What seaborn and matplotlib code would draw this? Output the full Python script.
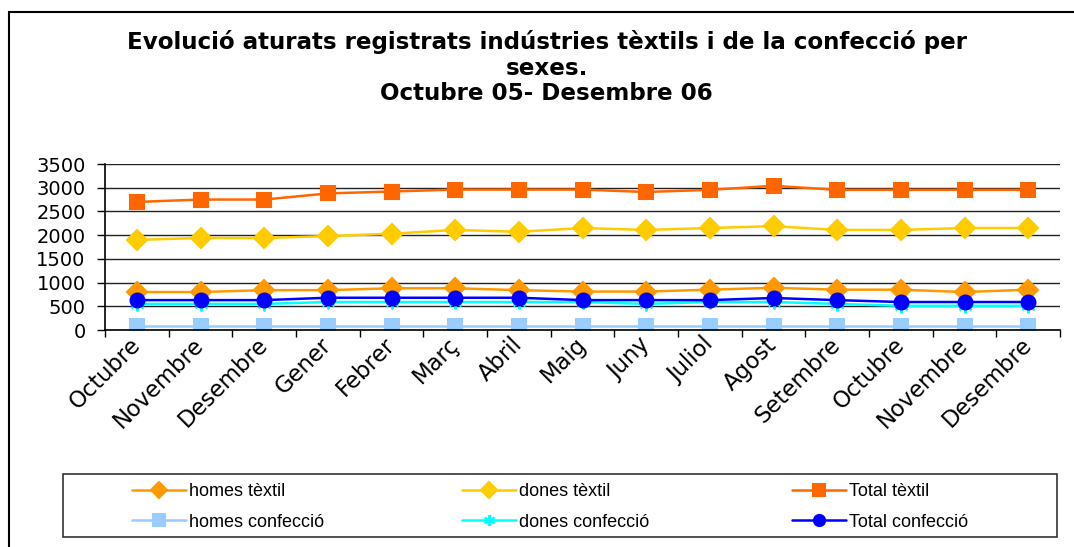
import numpy as np
import pandas as pd
import matplotlib
matplotlib.use("Agg")
import matplotlib.pyplot as plt
import matplotlib.patches as mpatches
import seaborn as sns

months = ["Octubre", "Novembre", "Desembre", "Gener", "Febrer", "Març", "Abril",
          "Maig", "Juny", "Juliol", "Agost", "Setembre", "Octubre", "Novembre",
          "Desembre"]

homes_textil = [800, 800, 840, 840, 880, 880, 840, 810, 810, 850, 890, 850, 850, 800, 850]
dones_textil = [1900, 1940, 1940, 1980, 2030, 2110, 2070, 2150, 2110, 2150, 2190, 2110, 2110, 2150, 2150]
total_textil = [2700, 2750, 2750, 2880, 2920, 2960, 2960, 2960, 2910, 2955, 3040, 2955, 2955, 2955, 2955]
homes_confeccio = [85, 85, 85, 85, 85, 85, 85, 85, 85, 85, 85, 85, 85, 85, 85]
dones_confeccio = [550, 550, 550, 590, 590, 590, 590, 590, 550, 590, 590, 550, 510, 510, 510]
total_confeccio = [630, 630, 630, 680, 680, 680, 680, 630, 630, 630, 675, 630, 590, 590, 590]

series = [
    ("homes tèxtil", homes_textil, "#FF9900", "D", 10),
    ("dones tèxtil", dones_textil, "#FFCC00", "D", 10),
    ("Total tèxtil", total_textil, "#FF6600", "s", 10),
    ("homes confecció", homes_confeccio, "#99CCFF", "s", 10),
    ("dones confecció", dones_confeccio, "#00FFFF", (6, 2, 0), 10),
    ("Total confecció", total_confeccio, "#0000FF", "o", 10),
]

sns.set_style("white")
plt.rcParams["font.family"] = ["DejaVu Sans"]
plt.rcParams["text.color"] = "black"
plt.rcParams["xtick.color"] = "black"
plt.rcParams["ytick.color"] = "black"

fig = plt.figure(figsize=(10.74, 5.47), dpi=100)
ax = fig.add_axes([105 / 1074, 1 - 330 / 547, (1060 - 105) / 1074, (330 - 164) / 547])

x = np.arange(len(months))
for name, vals, color, marker, ms in series:
    df = pd.DataFrame({"mes": x, "aturats": vals})
    sns.lineplot(data=df, x="mes", y="aturats", ax=ax, color=color, marker=marker,
                 markersize=ms, linewidth=1.8, markeredgecolor=color,
                 markeredgewidth=1.5, label=name, legend=False)

ax.set_xlim(-0.5, len(months) - 0.5)
ax.set_ylim(0, 3500)
ax.set_yticks(np.arange(0, 3501, 500))
ax.tick_params(axis="y", labelsize=14, length=6, width=1, direction="out", pad=8,
               left=True, colors="black")
ax.grid(axis="y", color="#222222", linewidth=1)
ax.set_axisbelow(True)

ax.set_xticks(np.arange(-0.5, len(months), 1))
ax.set_xticklabels([])
ax.tick_params(axis="x", which="major", length=5, width=1, direction="out", bottom=True)
ax.set_xticks(x, minor=True)
ax.set_xticklabels(months, minor=True, rotation=45, ha="right", va="center",
                   rotation_mode="anchor", fontsize=16.3, color="black")
ax.tick_params(axis="x", which="minor", length=0, pad=8)

ax.set_xlabel("")
ax.set_ylabel("")
for side in ["top", "right"]:
    ax.spines[side].set_visible(False)
for side in ["left", "bottom"]:
    ax.spines[side].set_color("black")
    ax.spines[side].set_linewidth(1.2)

fig.text(0.509, 1 - 30 / 547, "Evolució aturats registrats indústries tèxtils i de la confecció per\n"
         "sexes.\nOctubre 05- Desembre 06", ha="center", va="top", fontsize=16.6,
         fontweight="bold", linespacing=1.15, color="black")

# legend: frame drawn separately, three columns placed like the original
handles, labels = ax.get_legend_handles_labels()
col_x = [132, 462, 792]
for c in range(3):
    idx = [c, c + 3]
    lg = fig.legend([handles[i] for i in idx], [labels[i] for i in idx],
                    loc="center left", bbox_to_anchor=(col_x[c] / 1074, 1 - 507 / 547),
                    frameon=False, prop={"family": "Liberation Sans", "size": 13},
                    markerscale=0.8, handlelength=3.0, handletextpad=0.15,
                    labelspacing=0.75, borderpad=0, borderaxespad=0)
    for t in lg.get_texts():
        t.set_color("black")

fig.add_artist(mpatches.Rectangle((63 / 1074, 1 - 537 / 547), (1057 - 63) / 1074, 63 / 547,
                                  transform=fig.transFigure, fill=False,
                                  edgecolor="#333333", linewidth=1.2))

fig.add_artist(mpatches.Rectangle((9 / 1074, -0.1), 1.1, 1.1 - 12 / 547,
                                  transform=fig.transFigure, fill=False,
                                  edgecolor="black", linewidth=1.5))

fig.savefig("out.png", dpi=100)
